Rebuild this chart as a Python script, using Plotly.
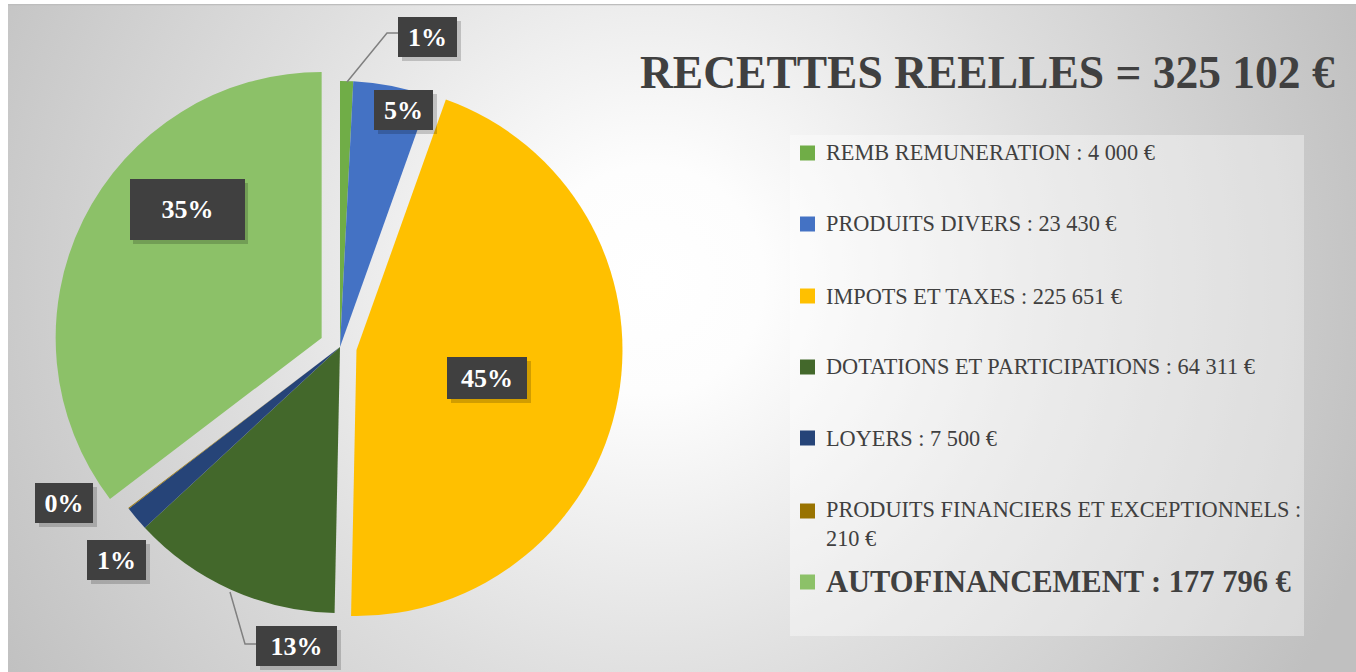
import base64
import plotly.graph_objects as go

W, H = 1356, 672

# ---------------- data ----------------
categories = [
    "REMB REMUNERATION",
    "PRODUITS DIVERS",
    "IMPOTS ET TAXES",
    "DOTATIONS ET PARTICIPATIONS",
    "LOYERS",
    "PRODUITS FINANCIERS ET EXCEPTIONNELS",
    "AUTOFINANCEMENT",
]
values = [4000, 23430, 225651, 64311, 7500, 210, 177796]
title_text = "RECETTES REELLES = 325 102 €"

# ---------------- style ----------------
colors = ["#70AD47", "#4472C4", "#FFC000", "#43682B", "#264478", "#997300", "#8CC168"]
pulls = [0, 0, 0.063, 0, 0, 0, 0.077]

def px(x):
    return x / W

def py(y):
    return 1 - y / H

# pie geometry (pixels)
cx, cy, r = 340, 347, 266
half = r * (1 + max(pulls))

fig = go.Figure()
fig.add_trace(go.Pie(
    values=values,
    labels=categories,
    sort=False,
    direction="clockwise",
    rotation=0,
    pull=pulls,
    marker=dict(colors=colors, line=dict(width=0)),
    textinfo="none",
    showlegend=False,
    hovertemplate="%{label}: %{value} €<extra></extra>",
    domain=dict(x=[px(cx - half), px(cx + half)], y=[py(cy + half), py(cy - half)]),
))

# ---------------- background gradient ----------------
bw, bh = W - 8, H - 4
svg = (
    f'<svg xmlns="http://www.w3.org/2000/svg" width="{bw}" height="{bh}" viewBox="0 0 {bw} {bh}">'
    '<defs><radialGradient id="g" cx="642" cy="276" r="760" gradientUnits="userSpaceOnUse">'
    '<stop offset="0" stop-color="#ffffff"/>'
    '<stop offset="0.15" stop-color="#fdfdfd"/>'
    '<stop offset="0.55" stop-color="#dedede"/>'
    '<stop offset="0.85" stop-color="#cacaca"/>'
    '<stop offset="1" stop-color="#c0c0c0"/>'
    '</radialGradient></defs>'
    f'<rect x="0" y="0" width="{bw}" height="{bh}" fill="url(#g)"/>'
    f'<line x1="0" y1="0.5" x2="{bw}" y2="0.5" stroke="#bdbdbd" stroke-width="1.5"/>'
    '</svg>'
)
src = "data:image/svg+xml;base64," + base64.b64encode(svg.encode("utf-8")).decode("ascii")

shapes = []
annotations = []

# legend panel
shapes.append(dict(type="rect", xref="paper", yref="paper",
                   x0=px(790), x1=px(1304), y0=py(636), y1=py(135),
                   fillcolor="rgba(255,255,255,0.38)", line=dict(width=0), layer="below"))

# ---------------- title ----------------
annotations.append(dict(
    text=f"<b>{title_text}</b>", x=px(988), y=py(73), xref="paper", yref="paper",
    xanchor="center", yanchor="middle", showarrow=False,
    font=dict(family="Liberation Serif", size=45.5, color="#404040"),
))

# ---------------- legend (manual) ----------------
def fmt(v):
    return f"{v:,}".replace(",", " ")

legend_y = [153, 224, 296, 367, 438, 524, 582]
for i, (name, v) in enumerate(zip(categories, values)):
    yc = legend_y[i]
    if i == 5:
        label = f"{name} :<br>{fmt(v)} €"
        sq_y = 511
    else:
        label = f"{name} : {fmt(v)} €"
        sq_y = yc
    if i == 6:
        label = f"<b>{label}</b>"
        size = 30.5
    else:
        size = 22.3
    shapes.append(dict(type="rect", xref="paper", yref="paper",
                       x0=px(800), x1=px(815), y0=py(sq_y + 7.5), y1=py(sq_y - 7.5),
                       fillcolor=colors[i], line=dict(width=0)))
    annotations.append(dict(
        text=label, x=px(824), y=py(yc), xref="paper", yref="paper",
        xanchor="left", yanchor="middle", align="left", showarrow=False,
        font=dict(family="Liberation Serif", size=size, color="#404040"),
    ))

# ---------------- percentage labels ----------------
total = sum(values)
pct = [f"{round(v / total * 100)}%" for v in values]
# box centre (px) and size (px)
label_boxes = [
    (427, 37, 59, 40),
    (403, 110, 59, 40),
    (487, 378, 80, 42),
    (296, 646, 81, 40),
    (116, 560, 59, 40),
    (64, 503, 58, 40),
    (187, 209, 115, 61),
]
for (bx, by, bwid, bhei), t in zip(label_boxes, pct):
    # shadow
    annotations.append(dict(
        text="", x=px(bx + 4), y=py(by + 4), xref="paper", yref="paper",
        xanchor="center", yanchor="middle", showarrow=False,
        width=bwid, height=bhei, bgcolor="rgba(0,0,0,0.18)", borderpad=0, borderwidth=0,
    ))
    annotations.append(dict(
        text=f"<b>{t}</b>", x=px(bx), y=py(by), xref="paper", yref="paper",
        xanchor="center", yanchor="middle", showarrow=False,
        width=bwid, height=bhei, bgcolor="#404040", borderpad=0, borderwidth=0,
        font=dict(family="Liberation Serif", size=26, color="#ffffff"),
    ))

# leader lines
def path(points):
    d = "M " + " L ".join(f"{px(x)},{py(y)}" for x, y in points)
    return d

shapes.append(dict(type="path", xref="paper", yref="paper",
                   path=path([(347, 82), (387, 33), (398, 33)]),
                   line=dict(color="#808080", width=1.5)))
shapes.append(dict(type="path", xref="paper", yref="paper",
                   path=path([(230, 592), (245, 644), (256, 644)]),
                   line=dict(color="#808080", width=1.5)))

fig.update_layout(
    width=W, height=H,
    margin=dict(l=0, r=0, t=0, b=0),
    paper_bgcolor="#ffffff",
    plot_bgcolor="rgba(0,0,0,0)",
    images=[dict(source=src, xref="paper", yref="paper", x=px(8), y=py(4),
                 sizex=bw / W, sizey=bh / H, xanchor="left", yanchor="top",
                 sizing="stretch", layer="below")],
    shapes=shapes,
    annotations=annotations,
    showlegend=False,
)

fig.write_html(
    "out.html",
    config={"displayModeBar": False},
    post_script="document.body.style.margin='0px';document.body.style.overflow='hidden';",
)
